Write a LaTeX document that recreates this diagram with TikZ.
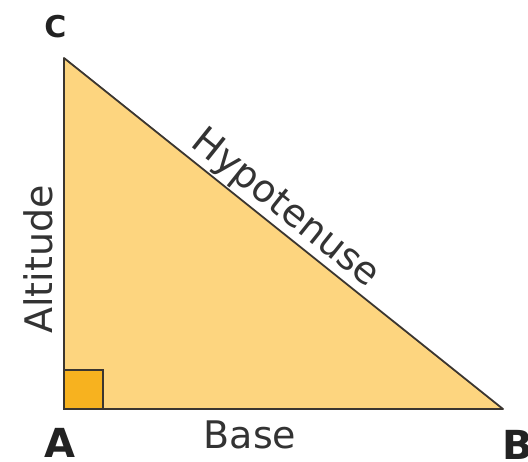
\documentclass[tikz,border=0pt]{standalone}
\usepackage{fontspec}
\setmainfont{DejaVu Sans}
\definecolor{trifill}{HTML}{FDD57F}
\definecolor{sqfill}{HTML}{F7B21F}
\definecolor{edge}{HTML}{3B3630}
\definecolor{txt}{HTML}{333333}
\definecolor{vtx}{HTML}{222222}
\tikzset{
  side/.style={draw=edge, line width=1.8pt, line join=round},
  lbl/.style={text=txt, font=\fontsize{38}{40}\selectfont, inner sep=0pt},
  vlbl/.style={text=vtx, font=\fontsize{40}{42}\selectfont\bfseries, inner sep=0pt, anchor=base},
}
\begin{document}
\begin{tikzpicture}[x=1pt,y=-1pt]
\useasboundingbox (0,0) rectangle (528,461);
\coordinate (A) at (64,409);
\coordinate (C) at (64,58);
\coordinate (B) at (503,409);
\fill[trifill] (A) -- (B) -- (C) -- cycle;
\filldraw[fill=sqfill, draw=edge, line width=1.8pt] (A) rectangle ++(39,-39);
\draw[side] (A) -- (B) -- (C) -- cycle;
\path (C) -- (B) node[pos=0.475, sloped, above, lbl, inner sep=2pt] (hyp) {Hypotenuse};
\node[lbl, rotate=90, anchor=base] (alt) at (52,259.5) {Altitude};
\node[lbl, anchor=base] (base) at (250,448) {Base};
\node[vlbl] (la) at (59.5,457) {A};
\node[vlbl] (lb) at (518,459) {B};
\node[vlbl, font=\fontsize{30}{32}\selectfont\bfseries] (lc) at (55.5,37) {C};
\end{tikzpicture}
\end{document}
